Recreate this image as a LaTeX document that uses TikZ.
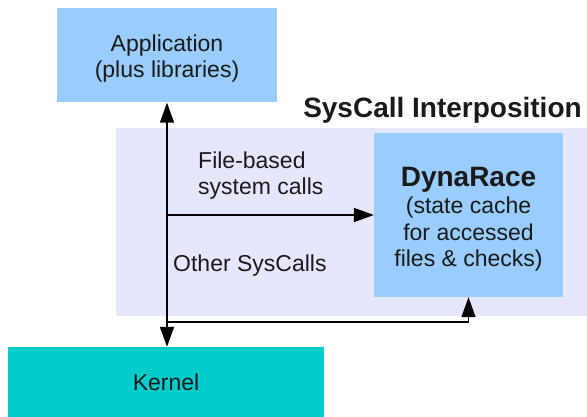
\documentclass[tikz,border=0pt]{standalone}
\usepackage{fontspec}
\setmainfont{Liberation Sans}
\usetikzlibrary{arrows.meta,calc}
\definecolor{boxblue}{HTML}{99CCFF}
\definecolor{lavender}{HTML}{E6E6FF}
\definecolor{kerncol}{HTML}{00CCCC}
\definecolor{txt}{HTML}{1A1A1A}
\tikzset{
  blk/.style={rectangle, inner sep=0pt, text=txt, align=center, font=\fontsize{23}{26.5}\selectfont},
  lbl/.style={inner sep=0pt, text=txt, font=\fontsize{23}{26.5}\selectfont},
  conn/.style={line width=1.6pt, black, arrows={-Triangle[length=20pt,width=14pt]}},
  conn2/.style={line width=1.6pt, black, arrows={Triangle[length=20pt,width=14pt]-Triangle[length=20pt,width=14pt]}},
}
\begin{document}
\begin{tikzpicture}[x=1pt,y=-1pt]
\useasboundingbox (0,0) rectangle (587,417);
% background interposition region
\node[rectangle, fill=lavender, minimum width=471pt, minimum height=188pt, inner sep=0pt] (bg) at (351.5,222) {};
\node[anchor=base, inner sep=0pt, text=txt, font=\fontsize{28}{30}\selectfont\bfseries] (title) at (442.5,118) {SysCall Interposition};
% boxes
\node[blk, fill=boxblue, minimum width=220pt, minimum height=94pt] (app) at (167,55.5) {};
\node[lbl, align=center] (apptext) at (167,58.5) {Application\\(plus libraries)};
\node[blk, fill=boxblue, minimum width=189pt, minimum height=164pt] (dyna) at (468.5,215) {};
\node[lbl, align=center] (dynatext) at (468.5,219) {{\fontsize{28}{30}\selectfont\bfseries DynaRace}\\[1pt](state cache\\for accessed\\files \& checks)};
\node[blk, fill=kerncol, minimum width=316pt, minimum height=70pt] (kernel) at (166,382) {Kernel};
% labels
\node[lbl, anchor=west, align=left] (filelbl) at (198,175.5) {File-based\\system calls};
\node[lbl, anchor=base west] (otherlbl) at (173,271) {Other SysCalls};
% connectors
\coordinate (j1) at (app.south |- dyna.west);
\coordinate (j2) at ($(app.south)+(0,219)$);
\draw[conn2] (app.south) -- (app.south |- kernel.north);
\draw[conn] (j1) -- (dyna.west);
\draw[conn] (j2) -| (dyna.south);
\end{tikzpicture}
\end{document}
